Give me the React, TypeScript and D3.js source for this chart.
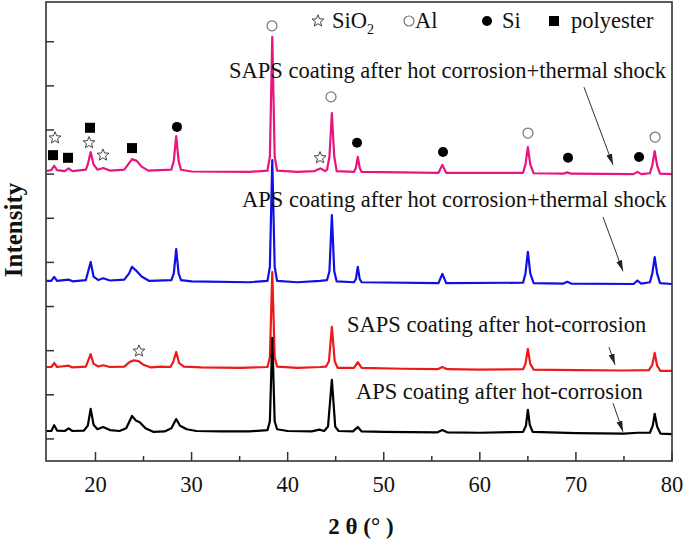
import React from "react";
import * as d3 from "d3";

const W = 685;
const H = 540;

// ---- axes ----
const xDomain: [number, number] = [14.85, 80];
const yDomain: [number, number] = [0, 1040];
const xMajorTicks = [20, 30, 40, 50, 60, 70, 80];
const xMinorTicks = [25, 35, 45, 55, 65, 75];
const yTicks = [50, 150, 250, 350, 450, 550, 650, 750, 850, 950];

// ---- spectra: [2theta, intensity (stacked, a.u.)] ----
const apsHot: [number, number][] = [
  [14.9, 68], [15.4, 68], [15.7, 81], [16.0, 69], [16.8, 68], [17.2, 74], [17.6, 68],
  [18.8, 69], [19.2, 80], [19.5, 118], [19.8, 82], [20.2, 72], [20.8, 77], [21.5, 70],
  [22.5, 68], [23.2, 74], [23.8, 102], [24.2, 92], [24.6, 88], [25.2, 74], [26.0, 66],
  [27.2, 67], [27.9, 74], [28.4, 95], [28.8, 80], [29.5, 72], [30.5, 68], [33, 67],
  [36, 67], [37.9, 70], [38.15, 90], [38.4, 279], [38.65, 90], [38.9, 72], [40, 68],
  [42.5, 67], [43.3, 71], [43.8, 68], [44.2, 78], [44.6, 184], [44.95, 78], [45.3, 68],
  [46.8, 67], [47.3, 77], [47.7, 67], [50, 66], [55.6, 65], [56.1, 70], [56.6, 65],
  [60, 64], [64.5, 66], [64.8, 80], [65.0, 116], [65.2, 82], [65.5, 66], [70, 63],
  [75, 62], [76.4, 64], [77.7, 64], [78.0, 80], [78.2, 107], [78.45, 78], [78.8, 62], [80, 61],
];

const sapsHot: [number, number][] = [
  [14.9, 213], [15.4, 213], [15.7, 222], [16.0, 213], [17.2, 216], [17.6, 212],
  [19.0, 214], [19.5, 242], [19.8, 220], [20.3, 214], [20.8, 217], [21.5, 213],
  [23.0, 214], [23.6, 225], [24.0, 228], [24.5, 226], [25.0, 218], [25.8, 212],
  [26.8, 214], [27.8, 213], [28.1, 225], [28.4, 247], [28.7, 222], [29.2, 214],
  [31, 212], [35, 211], [37.9, 213], [38.15, 235], [38.4, 428], [38.65, 235], [38.9, 214],
  [41, 211], [43.4, 213], [44.0, 214], [44.3, 226], [44.6, 304], [44.9, 226], [45.2, 211],
  [46.9, 211], [47.3, 224], [47.7, 211], [52, 209], [55.6, 208], [56.1, 213], [56.6, 208],
  [60, 207], [64.5, 208], [64.75, 220], [65.0, 254], [65.25, 220], [65.6, 207], [70, 206],
  [75, 205], [77.6, 206], [77.95, 218], [78.2, 245], [78.45, 216], [78.8, 204], [80, 204],
];

const apsShock: [number, number][] = [
  [14.9, 408], [15.4, 408], [15.7, 417], [16.0, 408], [17.2, 411], [17.6, 407],
  [19.0, 410], [19.5, 451], [19.8, 418], [20.3, 410], [20.8, 414], [21.5, 409],
  [23.0, 411], [23.5, 425], [23.8, 440], [24.2, 432], [24.8, 418], [25.6, 408],
  [27.9, 410], [28.15, 425], [28.4, 480], [28.65, 425], [28.9, 410], [30, 407],
  [36, 405], [37.9, 408], [38.15, 440], [38.4, 682], [38.65, 440], [38.9, 408],
  [41, 405], [43.4, 408], [44.1, 410], [44.35, 430], [44.6, 557], [44.85, 430], [45.1, 407],
  [46.9, 405], [47.1, 412], [47.3, 440], [47.5, 412], [47.7, 405], [55.7, 403],
  [56.1, 424], [56.5, 403], [64.5, 404], [64.75, 425], [65.0, 474], [65.25, 425],
  [65.6, 403], [68.7, 402], [69.1, 406], [69.5, 402], [76.0, 401], [76.4, 409], [76.8, 402],
  [77.7, 405], [77.95, 425], [78.2, 462], [78.45, 425], [78.75, 403], [80, 401],
];

const sapsShock: [number, number][] = [
  [14.9, 657], [15.4, 659], [15.7, 669], [16.0, 659], [16.8, 657], [17.2, 663], [17.6, 657],
  [19.0, 660], [19.2, 672], [19.5, 700], [19.8, 672], [20.2, 660], [20.8, 664], [21.5, 658],
  [23.0, 660], [23.5, 675], [23.8, 684], [24.3, 680], [24.8, 667], [25.5, 658],
  [27.9, 660], [28.15, 680], [28.4, 736], [28.65, 680], [28.9, 660], [30, 656],
  [36, 655], [37.9, 658], [38.15, 690], [38.4, 961], [38.65, 690], [38.9, 658],
  [41, 655], [42.8, 657], [43.4, 663], [43.9, 657], [44.1, 660], [44.35, 690], [44.6, 788],
  [44.85, 690], [45.1, 657], [46.9, 655], [47.1, 664], [47.3, 689], [47.5, 664], [47.7, 655],
  [55.7, 653], [56.1, 671], [56.5, 653], [64.5, 653], [64.75, 672], [65.0, 711], [65.25, 672],
  [65.6, 652], [68.7, 651], [69.1, 654], [69.5, 651], [76.0, 650], [76.4, 655], [76.8, 650],
  [77.7, 652], [77.95, 670], [78.2, 702], [78.45, 670], [78.75, 651], [80, 650],
];

// ---- series ----
const seriesNames = [
  "SAPS coating after hot corrosion+thermal shock",
  "APS coating after hot corrosion+thermal shock",
  "SAPS coating after hot-corrosion",
  "APS coating after hot-corrosion",
];
const seriesData = [sapsShock, apsShock, sapsHot, apsHot];
const seriesColors = ["#e8147f", "#1010e6", "#ec1a1a", "#000000"];
// label anchor (2theta, intensity) for text start
const labelAnchors: [number, number][] = [[33.9, 868], [35.25, 575], [46.18, 292], [47.11, 140]];
// arrows: [x1, y1, x2, y2] in data coordinates
const arrows: [number, number, number, number][] = [
  [70.84, 847, 73.86, 671],
  [72.82, 553, 74.9, 430],
  [73.44, 258, 74.07, 218],
  [73.86, 131, 74.9, 66],
];

// ---- phase markers ----
type Kind = "star" | "hollow" | "dot" | "square";
const markerKinds: Kind[] = [
  "star", "square", "square", "square", "star", "star", "square", "dot", "hollow",
  "star", "hollow", "dot", "dot", "hollow", "dot", "dot", "hollow", "star",
];
const markerX = [
  15.79, 15.58, 17.14, 19.43, 19.33, 20.78, 23.8, 28.48, 38.37,
  43.37, 44.51, 47.22, 56.17, 65.01, 69.18, 76.57, 78.24, 24.53,
];
const markerY = [
  732, 693, 687, 755, 721, 693, 709, 757, 986,
  687, 825, 721, 700, 743, 687, 689, 734, 249,
];

const FONT = "'Liberation Serif', 'Times New Roman', serif";

function starPath(cx: number, cy: number, R: number, r: number) {
  const pts: string[] = [];
  for (let i = 0; i < 10; i++) {
    const rad = i % 2 === 0 ? R : r;
    const a = -Math.PI / 2 + (i * Math.PI) / 5;
    pts.push(`${(cx + rad * Math.cos(a)).toFixed(2)},${(cy + rad * Math.sin(a)).toFixed(2)}`);
  }
  return "M" + pts.join("L") + "Z";
}

function Marker({ kind, cx, cy }: { kind: Kind; cx: number; cy: number }) {
  if (kind === "star")
    return <path d={starPath(cx, cy, 6.2, 2.7)} fill="white" stroke="#444" strokeWidth={1} strokeLinejoin="round" />;
  if (kind === "hollow") return <circle cx={cx} cy={cy} r={5} fill="white" stroke="#777" strokeWidth={1.2} />;
  if (kind === "dot") return <circle cx={cx} cy={cy} r={5} fill="#000" />;
  return <rect x={cx - 5} y={cy - 5} width={10} height={10} fill="#000" />;
}

export default function App() {
  const left = 46, right = 672, top = 2, bottom = 461;
  const x = d3.scaleLinear().domain(xDomain).range([left, right]);
  const y = d3.scaleLinear().domain(yDomain).range([bottom, top]);
  const line = d3
    .line<[number, number]>()
    .x((d) => x(d[0]))
    .y((d) => y(d[1]));

  return (
    <svg width={W} height={H} style={{ position: "absolute", left: 0, top: 0, background: "white" }}
      fontFamily={FONT}>
      <defs>
        <marker id="arr" markerUnits="userSpaceOnUse" markerWidth={12} markerHeight={7}
          refX={11} refY={3.5} orient="auto">
          <path d="M0,0.5 L11,3.5 L0,6.5 Z" fill="#222" />
        </marker>
        <clipPath id="plot">
          <rect x={left} y={top} width={right - left} height={bottom - top} />
        </clipPath>
      </defs>
      <rect x={0} y={0} width={W} height={H} fill="white" />

      {/* spectra: draw pink first, black on top */}
      <g clipPath="url(#plot)">
        {seriesData.map((d, i) => (
          <path key={i} d={line(d) || ""} fill="none" stroke={seriesColors[i]} strokeWidth={2.2}
            strokeLinejoin="round" />
        ))}
      </g>

      {/* markers */}
      {markerKinds.map((k, i) => (
        <Marker key={i} kind={k} cx={x(markerX[i])} cy={y(markerY[i])} />
      ))}

      {/* series labels */}
      {seriesNames.map((n, i) => (
        <text key={n} x={x(labelAnchors[i][0])} y={y(labelAnchors[i][1])} fontSize={22.5} fill="#111">
          {n}
        </text>
      ))}

      {/* arrows */}
      {arrows.map((a, i) => (
        <line key={i} x1={x(a[0])} y1={y(a[1])} x2={x(a[2])} y2={y(a[3])} stroke="#333" strokeWidth={1}
          markerEnd="url(#arr)" />
      ))}

      {/* legend */}
      <g fontSize={22.5} fill="#111">
        <path d={starPath(318, 21, 6.2, 2.7)} fill="white" stroke="#444" strokeWidth={1} />
        <text x={332} y={28}>SiO<tspan fontSize={14} dy={6}>2</tspan></text>
        <circle cx={409} cy={21} r={5} fill="white" stroke="#777" strokeWidth={1.2} />
        <text x={415} y={28}>Al</text>
        <circle cx={487} cy={21} r={5} fill="#000" />
        <text x={502} y={28}>Si</text>
        <rect x={549} y={16} width={10} height={10} fill="#000" />
        <text x={571} y={28}>polyester</text>
      </g>

      {/* axes box */}
      <rect x={left} y={top} width={right - left} height={bottom - top} fill="none" stroke="#333" strokeWidth={1.6} />
      {xMajorTicks.map((t) => (
        <g key={t}>
          <line x1={x(t)} x2={x(t)} y1={bottom} y2={bottom - 9} stroke="#333" strokeWidth={1.5} />
          <text x={x(t)} y={492} fontSize={22.5} textAnchor="middle" fill="#111">{t}</text>
        </g>
      ))}
      {xMinorTicks.map((t) => (
        <line key={t} x1={x(t)} x2={x(t)} y1={bottom} y2={bottom - 5} stroke="#333" strokeWidth={1.5} />
      ))}
      {yTicks.map((t) => (
        <line key={t} x1={left} x2={left + 8} y1={y(t)} y2={y(t)} stroke="#333" strokeWidth={1.5} />
      ))}

      {/* axis titles */}
      <text x={361} y={534} fontSize={23} fontWeight="bold" textAnchor="middle" fill="#111">
        2 θ (° )
      </text>
      <text transform="translate(22,230) rotate(-90)" fontSize={25} fontWeight="bold" textAnchor="middle"
        fill="#111">
        Intensity
      </text>
    </svg>
  );
}
